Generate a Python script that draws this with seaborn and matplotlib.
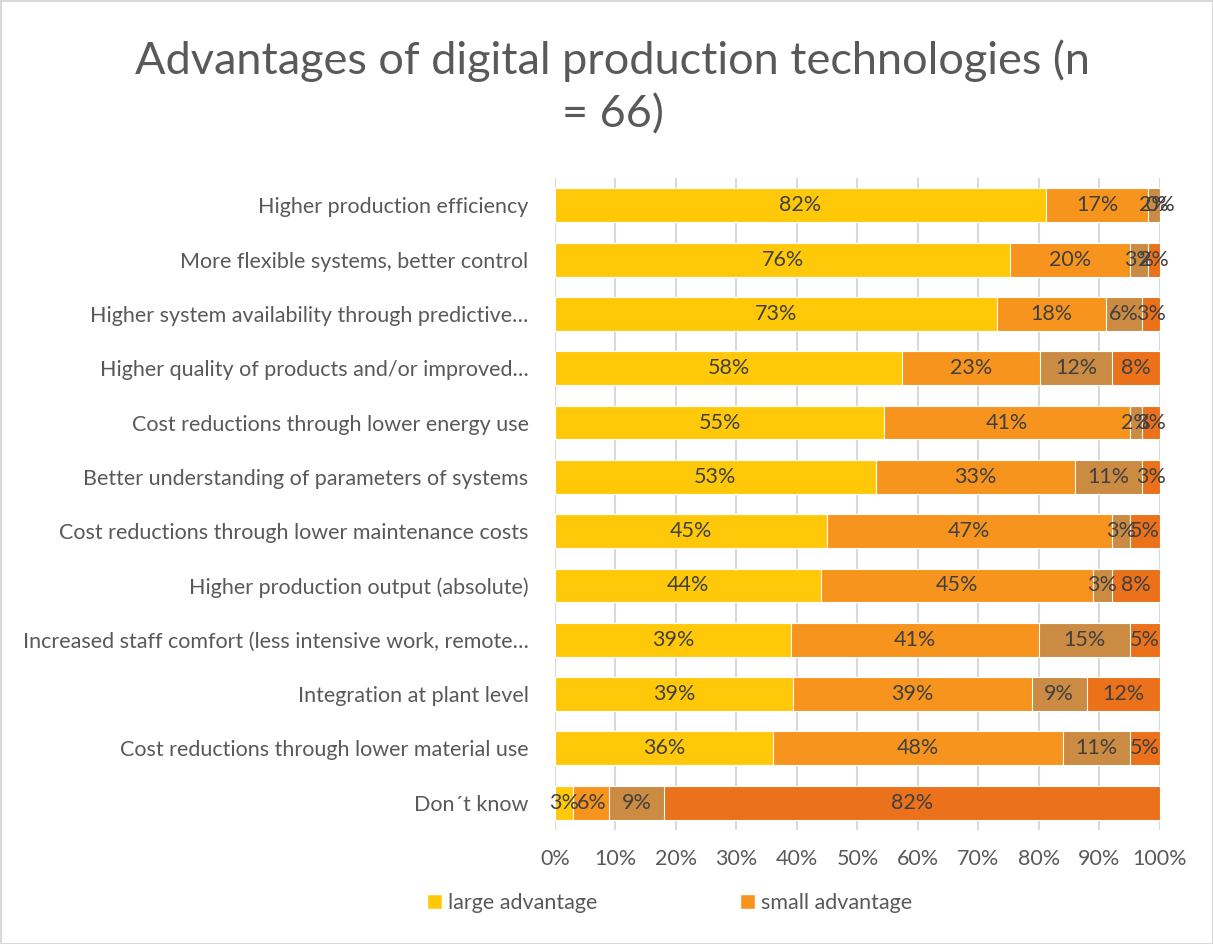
import matplotlib
matplotlib.use("Agg")
import matplotlib.pyplot as plt
import seaborn as sns
import numpy as np
import pandas as pd
from matplotlib.patches import Patch

categories = [
    "Higher production efficiency",
    "More flexible systems, better control",
    "Higher system availability through predictive…",
    "Higher quality of products and/or improved…",
    "Cost reductions through lower energy use",
    "Better understanding of parameters of systems",
    "Cost reductions through lower maintenance costs",
    "Higher production output (absolute)",
    "Increased staff comfort (less intensive work, remote…",
    "Integration at plant level",
    "Cost reductions through lower material use",
    "Don´t know",
]
large_advantage = [82, 76, 73, 58, 55, 53, 45, 44, 39, 39, 36, 3]
small_advantage = [17, 20, 18, 23, 41, 33, 47, 45, 41, 39, 48, 6]
no_advantage = [2, 3, 6, 12, 2, 11, 3, 3, 15, 9, 11, 9]
dont_know = [0, 2, 3, 8, 3, 3, 5, 8, 5, 12, 5, 82]
series_names = ["large advantage", "small advantage", "no advantage", "don't know"]
colors = ["#FFC90A", "#F7941E", "#CC8B43", "#EB711B"]

sns.set_theme(style="white")
plt.rcParams["font.family"] = ["Lato", "DejaVu Sans"]

TXT = "#595959"
LBL = "#404040"

vals = np.array([large_advantage, small_advantage, no_advantage, dont_know], dtype=float)
shares = vals / vals.sum(axis=0) * 100
cum = np.cumsum(shares, axis=0)

fig = plt.figure(figsize=(12.13, 9.44), dpi=100, edgecolor="#D9D9D9", linewidth=2)
ax = fig.add_axes([0.4575, 0.1208, 0.4988, 0.6906])

for i in range(3, -1, -1):
    df = pd.DataFrame({"cat": categories, "val": cum[i]})
    sns.barplot(data=df, x="val", y="cat", orient="h", color=colors[i], width=0.625,
                edgecolor="white", linewidth=0.8, saturation=1, ax=ax, zorder=3)

for i in range(4):
    start = cum[i] - shares[i]
    for r in range(len(categories)):
        ax.text(start[r] + shares[i][r] / 2, r, f"{int(vals[i][r])}%", ha="center", va="center",
                fontsize=15.5, color=LBL, zorder=5)

ax.set_xlim(0, 100)
ax.set_ylim(len(categories) - 0.5, -0.5)
ax.set_xticks(np.arange(0, 101, 10))
ax.set_xticklabels([f"{t}%" for t in range(0, 101, 10)])
ax.xaxis.grid(True, color="#D9D9D9", linewidth=1.5, zorder=0)
ax.set_axisbelow(True)
for s in ax.spines.values():
    s.set_visible(False)
ax.set_xlabel("")
ax.set_ylabel("")
ax.tick_params(axis="x", labelsize=15.5, colors=TXT, pad=14, length=0)
ax.tick_params(axis="y", labelsize=15.5, colors=TXT, pad=19, length=0)

fig.text(0.505, 1 - 61 / 944, "Advantages of digital production technologies (n", ha="center", va="center",
         fontsize=32.5, color=TXT)
fig.text(0.505, 1 - 115 / 944, "= 66)", ha="center", va="center",
         fontsize=32.5, color=TXT)

handles = [Patch(facecolor=colors[0]), Patch(facecolor=colors[1])]
fig.legend(handles, series_names[:2], loc="center", bbox_to_anchor=(0.552, 1 - 903 / 944), ncol=2,
           frameon=False, fontsize=15.5, labelcolor=TXT, handlelength=0.7, handleheight=0.7,
           handletextpad=0.3, columnspacing=6.6)

fig.savefig("out.png", dpi=100, edgecolor=fig.get_edgecolor())
